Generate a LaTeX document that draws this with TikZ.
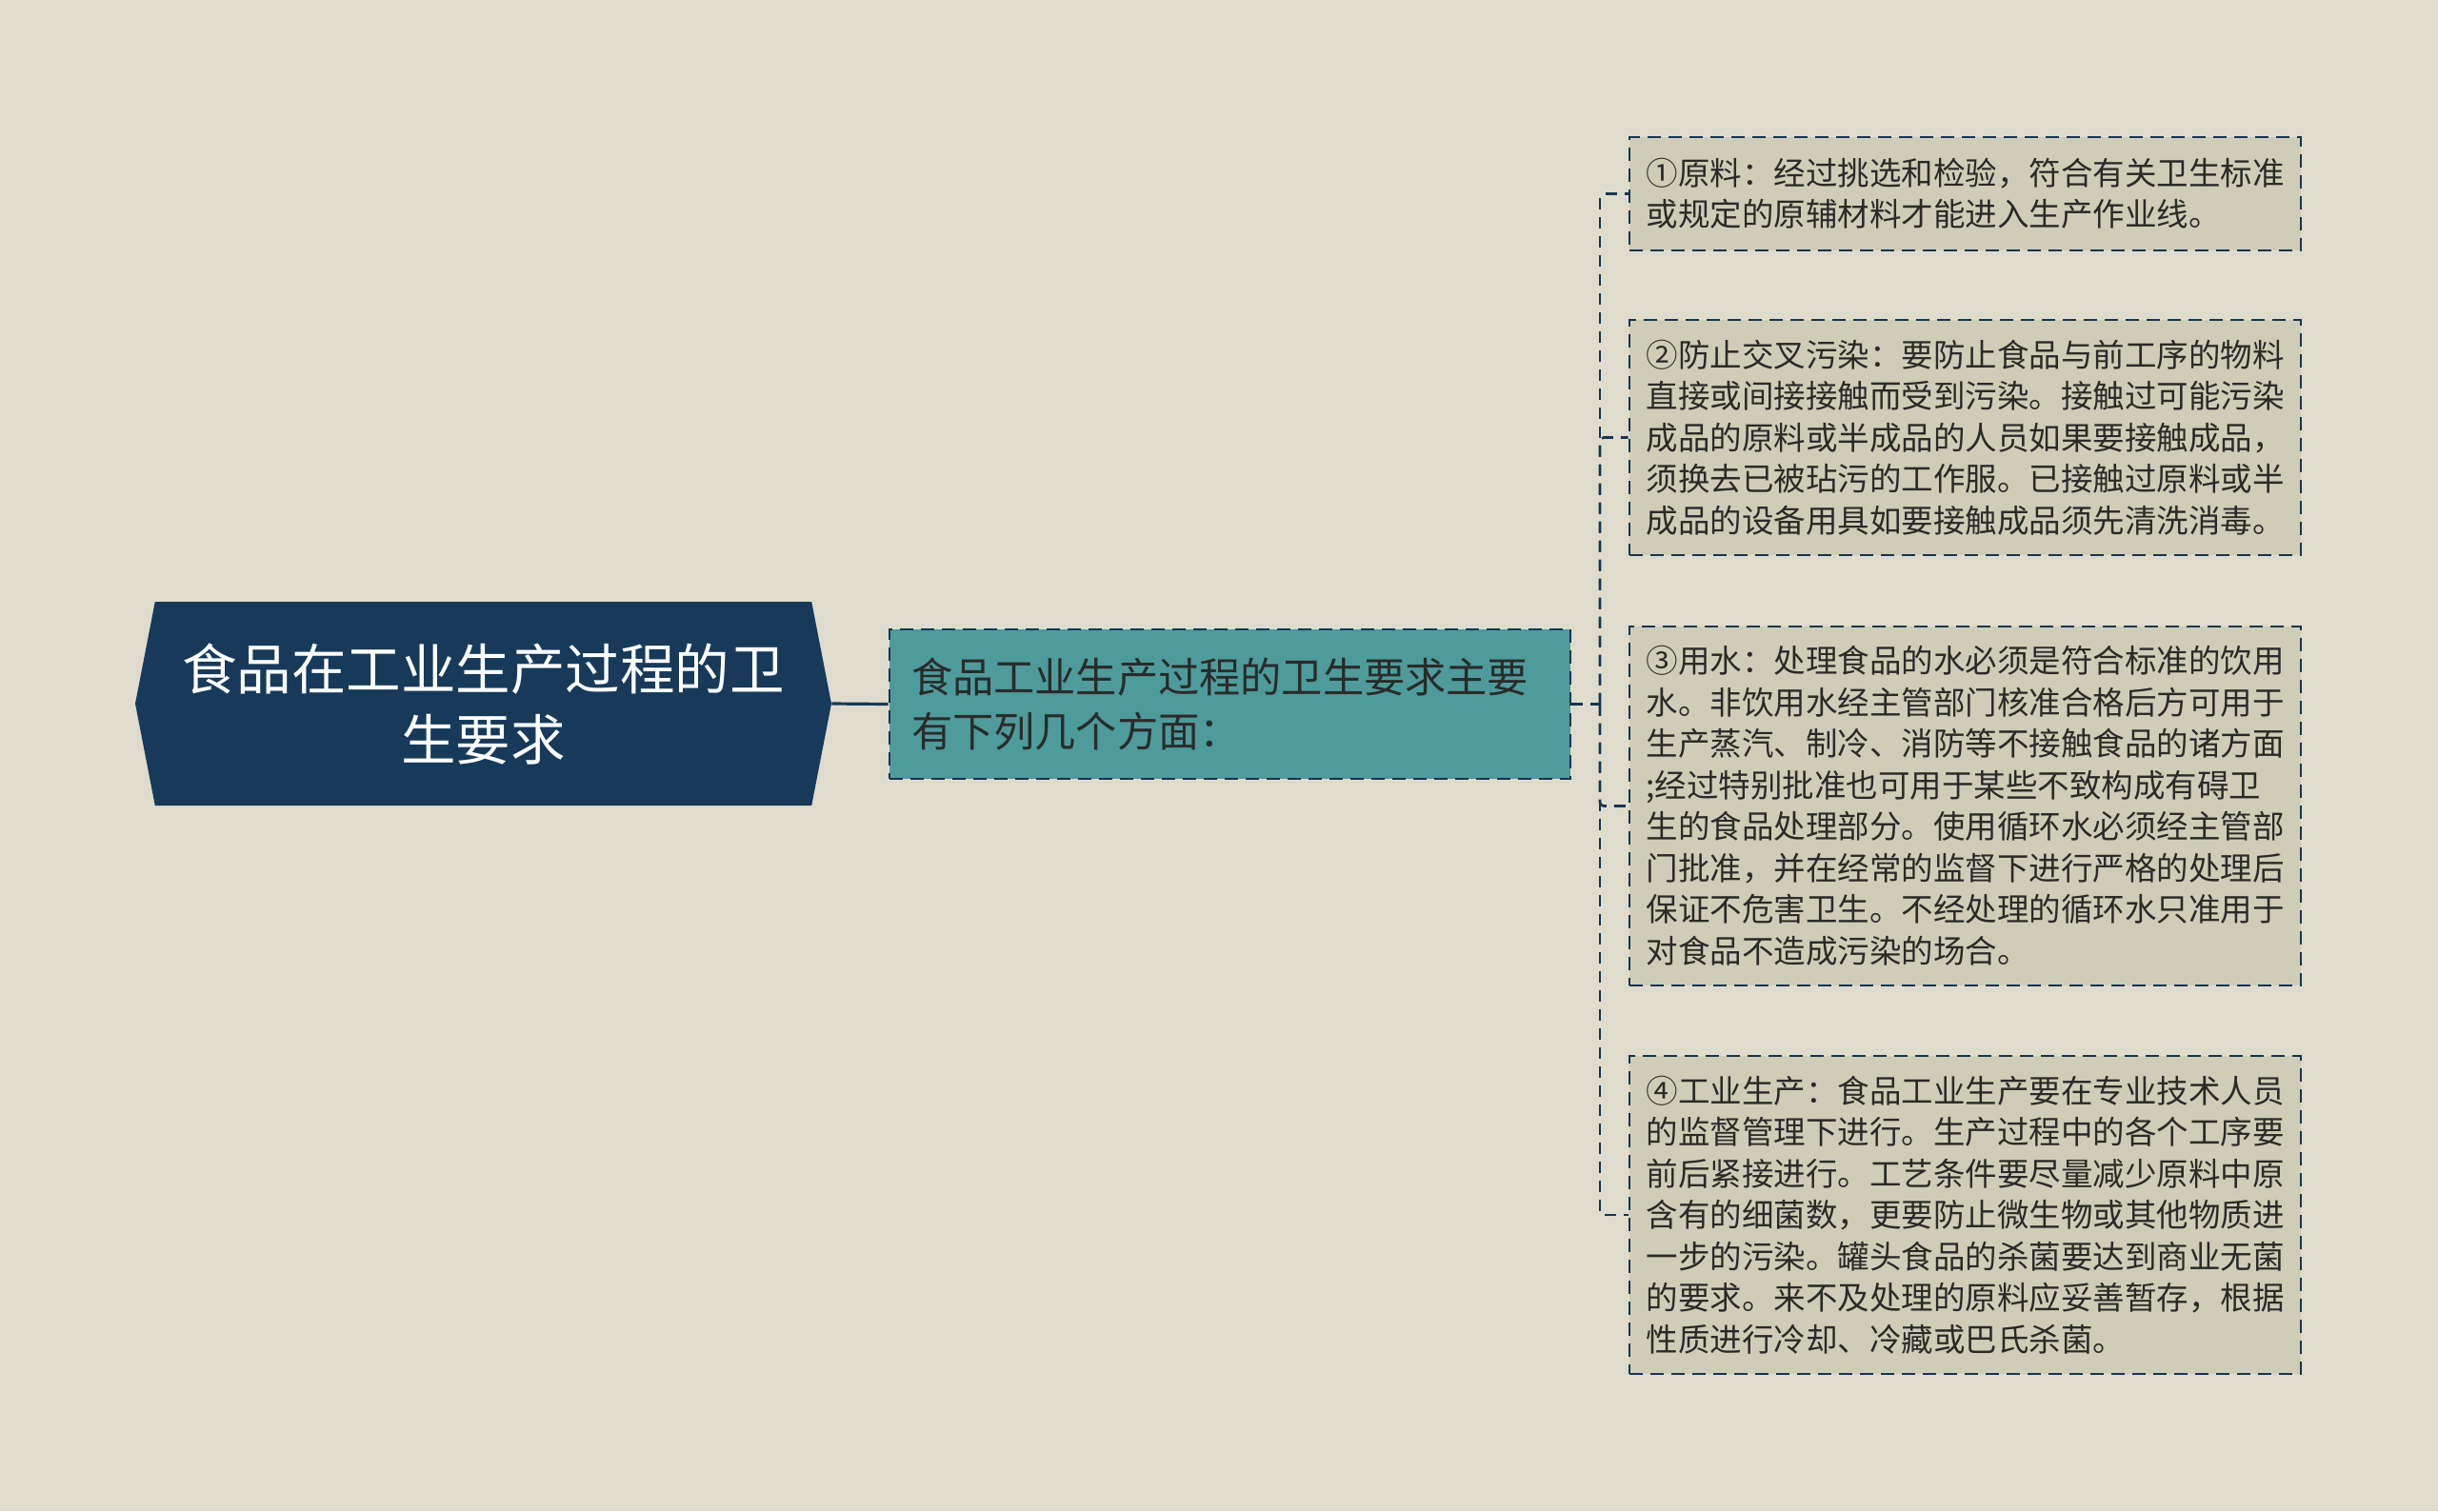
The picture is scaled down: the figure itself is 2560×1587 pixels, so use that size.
\documentclass[tikz,border=0pt]{standalone}
\usepackage{fontspec}
\newfontfamily\cjk{Noto Sans CJK SC}
\usetikzlibrary{shapes.symbols}
\definecolor{paper}{HTML}{DFDCCD}
\definecolor{navy}{HTML}{173A5A}
\definecolor{edge}{HTML}{163552}
\definecolor{teal}{HTML}{4E9B9C}
\definecolor{sand}{HTML}{CFCDB8}
\definecolor{ink}{HTML}{2A2B28}
\tikzset{
	topic/.style={shape=signal, signal to=east and west, signal pointer angle=158, fill=navy, text=white, minimum width=365.5pt, minimum height=107pt, inner sep=0pt, align=center, font=\cjk\fontsize{28.75pt}{37pt}\selectfont},
	sub/.style={draw=edge, line width=1.3pt, dash pattern=on 7pt off 4pt, fill=teal, text=ink, text width=334.5pt, inner xsep=11.5pt, inner ysep=0pt, minimum height=78.5pt, align=left, font=\cjk\fontsize{21.6pt}{28.5pt}\selectfont},
	leaf/.style={draw=edge, line width=1.3pt, dash pattern=on 7pt off 4pt, fill=sand, text=ink, text width=335pt, inner xsep=8.75pt, inner ysep=0pt, align=left, font=\cjk\fontsize{16.75pt}{21.75pt}\selectfont},
	bond/.style={draw=navy, line width=1.6pt},
	link/.style={draw=edge, line width=1.3pt, dash pattern=on 6pt off 4pt, rounded corners=2pt}
}
\begin{document}
\begin{tikzpicture}[x=0.5pt, y=-0.5pt]
	\fill[paper] (0,0) rectangle (2560,1587);
	\useasboundingbox (0,0) rectangle (2560,1587);
	\node[topic] (root) at (507.5,739) {食品在工业生产过程的卫\\生要求};
	\node[sub] (mid) at (1291.5,739.5) {食品工业生产过程的卫生要求主要\\有下列几个方面：};
	\node[leaf, minimum height=59.5pt] (a) at (2063.5,203.5) {①原料：经过挑选和检验，符合有关卫生标准\\或规定的原辅材料才能进入生产作业线。};
	\node[leaf, minimum height=123.5pt] (b) at (2063.5,459.5) {②防止交叉污染：要防止食品与前工序的物料\\直接或间接接触而受到污染。接触过可能污染\\成品的原料或半成品的人员如果要接触成品，\\须换去已被玷污的工作服。已接触过原料或半\\成品的设备用具如要接触成品须先清洗消毒。};
	\node[leaf, minimum height=188.5pt] (c) at (2063.5,846.5) {③用水：处理食品的水必须是符合标准的饮用\\水。非饮用水经主管部门核准合格后方可用于\\生产蒸汽、制冷、消防等不接触食品的诸方面\\;经过特别批准也可用于某些不致构成有碍卫\\生的食品处理部分。使用循环水必须经主管部\\门批准，并在经常的监督下进行严格的处理后\\保证不危害卫生。不经处理的循环水只准用于\\对食品不造成污染的场合。};
	\node[leaf, minimum height=167pt] (d) at (2063.5,1276) {④工业生产：食品工业生产要在专业技术人员\\的监督管理下进行。生产过程中的各个工序要\\前后紧接进行。工艺条件要尽量减少原料中原\\含有的细菌数，更要防止微生物或其他物质进\\一步的污染。罐头食品的杀菌要达到商业无菌\\的要求。来不及处理的原料应妥善暂存，根据\\性质进行冷却、冷藏或巴氏杀菌。};
	\coordinate (fork) at (1680,739.5);
	\draw[bond] (root.east) -- (mid.west);
	\draw[link] (mid.east) -- (fork);
	\foreach \n in {a,b,c,d}
		\draw[link] (fork) |- (\n.west);
\end{tikzpicture}
\end{document}
